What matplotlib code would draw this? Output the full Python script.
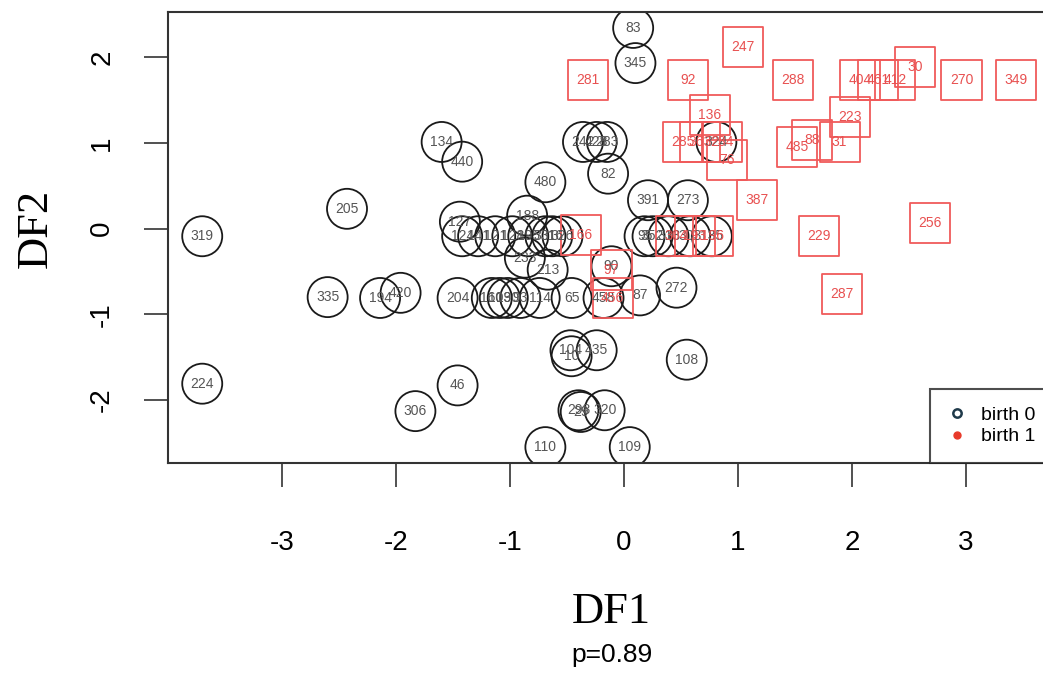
import matplotlib
matplotlib.use("Agg")
import matplotlib.pyplot as plt
from matplotlib.lines import Line2D

# birth 0 (circles): label, DF1, DF2
b0_labels = ["83", "345", "134", "440", "242", "428", "283", "82", "480", "391",
             "273", "205", "188", "127", "319", "124", "141", "121", "128", "195",
             "331", "316", "326", "95", "352", "313", "303", "135", "324", "233",
             "213", "90", "272", "87", "458", "335", "194", "420", "204", "160",
             "103", "190", "93", "114", "65", "104", "10", "435", "108", "46",
             "224", "306", "298", "29", "320", "110", "109"]
b0_x = [0.08, 0.10, -1.60, -1.42, -0.36, -0.24, -0.15, -0.14, -0.69, 0.21,
        0.56, -2.43, -0.85, -1.44, -3.70, -1.42, -1.28, -1.13, -0.98, -0.84,
        -0.69, -0.63, -0.54, 0.18, 0.25, 0.39, 0.58, 0.77, 0.81, -0.87,
        -0.67, -0.11, 0.46, 0.14, -0.18, -2.60, -2.14, -1.96, -1.46, -1.16,
        -1.09, -1.02, -0.91, -0.74, -0.46, -0.47, -0.46, -0.24, 0.55, -1.46,
        -3.70, -1.83, -0.40, -0.38, -0.17, -0.69, 0.05]
b0_y = [2.34, 1.93, 1.01, 0.78, 1.01, 1.01, 1.01, 0.64, 0.54, 0.33,
        0.33, 0.23, 0.15, 0.08, -0.09, -0.09, -0.09, -0.09, -0.09, -0.09,
        -0.09, -0.09, -0.09, -0.09, -0.09, -0.09, -0.09, -0.09, 1.01, -0.34,
        -0.48, -0.44, -0.69, -0.78, -0.81, -0.80, -0.81, -0.75, -0.81, -0.81,
        -0.81, -0.81, -0.81, -0.81, -0.81, -1.42, -1.49, -1.42, -1.53, -1.83,
        -1.81, -2.13, -2.12, -2.14, -2.12, -2.55, -2.55]

# birth 1 (squares)
b1_labels = ["247", "281", "92", "288", "404", "461", "412", "30", "270", "349",
             "223", "136", "285", "363", "234", "76", "31", "485", "88", "387",
             "256", "229", "166", "304", "193", "196", "97", "456", "287"]
b1_x = [1.04, -0.32, 0.56, 1.48, 2.07, 2.23, 2.38, 2.55, 2.96, 3.44,
        1.98, 0.75, 0.52, 0.67, 0.86, 0.90, 1.89, 1.52, 1.65, 1.17,
        2.68, 1.71, -0.38, 0.46, 0.62, 0.78, -0.11, -0.10, 1.91]
b1_y = [2.12, 1.73, 1.73, 1.73, 1.73, 1.73, 1.73, 1.88, 1.73, 1.73,
        1.30, 1.32, 1.01, 1.01, 1.01, 0.80, 1.01, 0.95, 1.03, 0.33,
        0.06, -0.09, -0.08, -0.09, -0.09, -0.09, -0.48, -0.81, -0.76]

xticks = [-3, -2, -1, 0, 1, 2, 3]
yticks = [-2, -1, 0, 1, 2]

fig = plt.figure(figsize=(10.43, 6.75), dpi=100)
ax = fig.add_axes([0.1611, 0.3141, 0.8635, 0.668])

ax.scatter(b0_x, b0_y, s=830, marker="o", facecolors="none",
           edgecolors="#1a1a1a", linewidths=1.3, zorder=2)
ax.scatter(b1_x, b1_y, s=830, marker="s", facecolors="none",
           edgecolors="#f05a5a", linewidths=1.3, zorder=2)
for lab, x, y in zip(b0_labels, b0_x, b0_y):
    ax.text(x, y, lab, ha="center", va="center", fontsize=10,
            color="#555555", family="Liberation Sans", zorder=3)
for lab, x, y in zip(b1_labels, b1_x, b1_y):
    ax.text(x, y, lab, ha="center", va="center", fontsize=10,
            color="#e85050", family="Liberation Sans", zorder=3)

ax.set_xlim(-4.0, 3.9)
ax.set_ylim(-2.735, 2.525)
ax.set_xticks(xticks)
ax.set_yticks(yticks)
ax.set_xticklabels([str(t) for t in xticks], family="Liberation Sans", fontsize=20)
ax.set_yticklabels([str(t) for t in yticks], family="Liberation Sans", fontsize=20,
                   rotation=90, va="center")
ax.tick_params(axis="x", length=17, width=1.2, pad=31, color="#333333")
ax.tick_params(axis="y", length=17, width=1.2, pad=21, color="#333333")
for sp in ax.spines.values():
    sp.set_linewidth(1.5)
    sp.set_color("#333333")

fig.text(0.5865, 0.093, "DF1", ha="center", va="center",
         family="Liberation Serif", fontsize=32)
fig.text(0.5865, 0.030, "p=0.89", ha="center", va="center",
         family="Liberation Sans", fontsize=19)
fig.text(0.034, 1 - 228 / 675, "DF2", ha="center", va="center", rotation=90,
         family="Liberation Serif", fontsize=32)

handles = [Line2D([], [], marker="o", ls="none", mfc="none", mec="#1f3a4a",
                  mew=1.8, ms=6),
           Line2D([], [], marker="o", ls="none", mfc="#e83a2a", mec="#e83a2a",
                  ms=5)]
leg = ax.legend(handles, ["birth 0", "birth 1"], loc="lower left",
                bbox_to_anchor=((930 - 168) / (0.8635 * 1043), 0.0),
                borderaxespad=0, fancybox=False, frameon=True,
                prop={"family": "Liberation Sans", "size": 14},
                handlelength=1.0, handletextpad=0.7, borderpad=0.9,
                labelspacing=0.2)
leg.get_frame().set_edgecolor("#222222")
leg.get_frame().set_linewidth(1.5)

fig.savefig("out.png", dpi=100)
